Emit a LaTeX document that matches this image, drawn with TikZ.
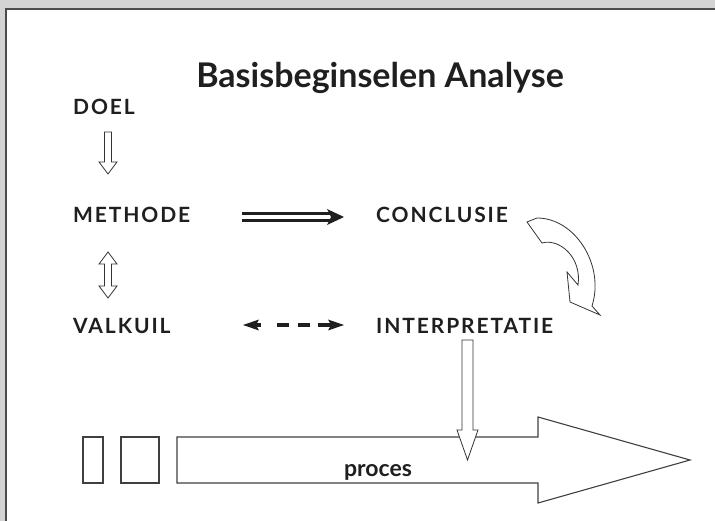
\documentclass[tikz,border=0pt]{standalone}
\usepackage{fontspec}
\setmainfont{Lato}
\newfontfamily\titlefont{Lato}
\newfontfamily\labfont[LetterSpace=9]{Lato}
\begin{document}
\begin{tikzpicture}[x=1pt,y=-1pt,
  lab/.style={font=\labfont\bfseries\fontsize{21}{24}\selectfont, text=black!88, anchor=base west, inner sep=0pt},
  hollow/.style={draw=black!80, fill=white, line width=0.8pt, line join=miter},
  bigshape/.style={draw=black!75, fill=white, line width=1.1pt, line join=miter}]
\useasboundingbox (0,0) rectangle (715,521);
% frame
\fill[black!17] (0,0) rectangle (715,521);
\fill[white] (6,10) rectangle (716,522);
\draw[black!70, line width=2pt] (6,522) -- (6,9) -- (716,9);

% title
\node[font=\titlefont\bfseries\fontsize{34}{38}\selectfont, text=black!88, anchor=base, inner sep=0pt] (title) at (380,88) {Basisbeginselen Analyse};

% labels
\node[lab] (doel) at (73,115) {DOEL};
\node[lab] (methode) at (73,223) {METHODE};
\node[lab] (valkuil) at (73,334) {VALKUIL};
\node[lab] (conclusie) at (376,223) {CONCLUSIE};
\node[lab] (interp) at (376,334) {INTERPRETATIE};

% DOEL -> METHODE hollow arrow
\draw[hollow] (104.5,132) -- (111.5,132) -- (111.5,162) -- (117,162) -- (108,174) -- (99,162) -- (104.5,162) -- cycle;
% METHODE <-> VALKUIL hollow double arrow
\draw[hollow] (108,252) -- (117,264) -- (111.5,264) -- (111.5,286) -- (117,286) -- (108,298) -- (99,286) -- (104.5,286) -- (104.5,264) -- (99,264) -- cycle;

% METHODE => CONCLUSIE double line arrow
\draw[black!88, line width=3.2pt] (242,213.2) -- (332,213.2);
\draw[black!88, line width=3.2pt] (242,220.8) -- (332,220.8);
\fill[black!88] (327,209) -- (344,217) -- (327,225) -- (331,217) -- cycle;

% VALKUIL <-> INTERPRETATIE dashed arrow
\fill[black!88] (243,325) -- (259,319.5) -- (256,325) -- (259,330.5) -- cycle;
\draw[black!88, line width=3.4pt] (255,325) -- (261,325);
\draw[black!88, line width=3.4pt] (277,325) -- (289,325);
\draw[black!88, line width=3.4pt] (298,325) -- (310,325);
\draw[black!88, line width=3.4pt] (318,325) -- (332,325);
\fill[black!88] (344,325) -- (328,319.5) -- (331,325) -- (328,330.5) -- cycle;

% curved hollow arrow CONCLUSIE -> INTERPRETATIE
\draw[hollow] (527,222) -- (542,243) .. controls (560,238) and (582,258) .. (578,285)
  -- (567,272) -- (570,302) -- (600,315) -- (592,306)
  .. controls (605,265) and (575,218) .. (537,218) -- cycle;

% process boxes
\draw[bigshape] (83,437) rectangle (103,483);
\draw[bigshape] (121,437) rectangle (159,483);
\draw[bigshape] (177,437) -- (538,437) -- (538,417) -- (690,460) -- (538,503) -- (538,483) -- (177,483) -- cycle;
\node[font=\bfseries\fontsize{23}{26}\selectfont, text=black!88, anchor=base, inner sep=0pt] (proces) at (378,476) {proces};

% INTERPRETATIE -> proces hollow arrow
\draw[hollow] (462,340) -- (473,340) -- (473,430) -- (478,430) -- (467.5,460) -- (457,430) -- (462,430) -- cycle;
\end{tikzpicture}
\end{document}
